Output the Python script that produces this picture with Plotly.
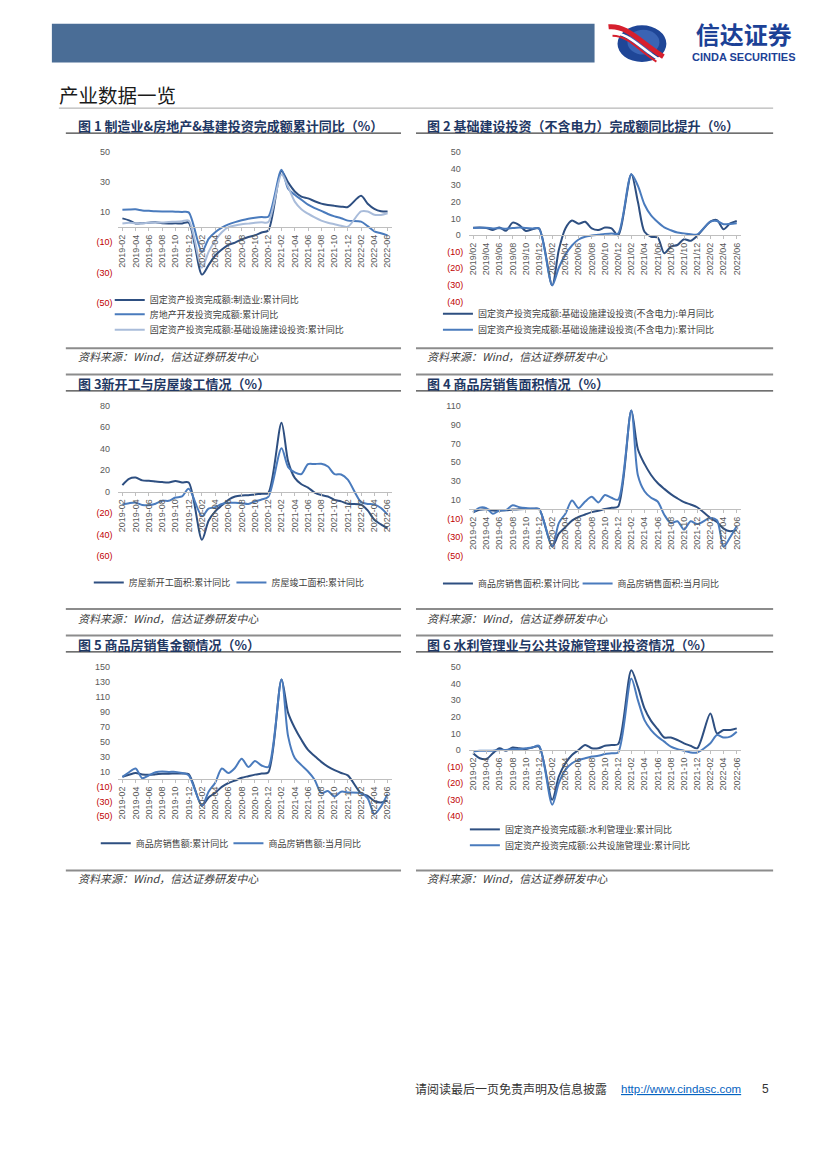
import plotly.graph_objects as go

W, H = 827, 1169

# ---------------- categories ----------------
months = ["2019-02", "2019-03", "2019-04", "2019-05", "2019-06", "2019-07", "2019-08", "2019-09",
          "2019-10", "2019-11", "2019-12",
          "2020-01", "2020-02", "2020-03", "2020-04", "2020-05", "2020-06", "2020-07", "2020-08",
          "2020-09", "2020-10", "2020-11", "2020-12",
          "2021-01", "2021-02", "2021-03", "2021-04", "2021-05", "2021-06", "2021-07", "2021-08",
          "2021-09", "2021-10", "2021-11", "2021-12",
          "2022-01", "2022-02", "2022-03", "2022-04", "2022-05", "2022-06"]
months_slash = [m.replace("-", "/") for m in months]

# ---------------- series (None = January, not published) ----------------
# 图1
mfg_cum = [5.9, 4.6, 2.5, 2.7, 3.0, 3.3, 2.6, 2.5, 2.6, 2.5, 3.1, None,
           -31.5, -25.2, -18.8, -14.8, -11.7, -10.2, -8.1, -6.5, -5.3, -3.5, -2.2, None,
           37.3, 29.8, 23.8, 20.4, 19.2, 17.3, 15.7, 14.8, 14.2, 13.7, 13.5, None,
           20.9, 15.6, 12.2, 10.6, 10.4]
re_cum = [11.6, 11.8, 11.9, 11.2, 10.9, 10.6, 10.5, 10.5, 10.3, 10.2, 9.9, None,
          -16.3, -7.7, -3.3, -0.3, 1.9, 3.4, 4.6, 5.6, 6.3, 6.8, 7.0, None,
          38.3, 25.6, 21.6, 18.3, 15.0, 12.7, 10.9, 8.8, 7.2, 6.0, 4.4, None,
          3.7, 0.7, -2.7, -4.0, -5.4]
infra_cum = [2.5, 3.0, 2.6, 2.6, 3.0, 3.2, 3.2, 3.5, 3.7, 4.0, 4.5, None,
             -26.9, -16.4, -8.8, -3.3, 0.1, 1.2, 2.0, 2.4, 3.0, 3.3, 3.4, None,
             35.0, 26.8, 17.0, 12.0, 9.0, 6.5, 4.4, 3.0, 2.0, 1.0, 0.3, None,
             10.5, 10.5, 8.3, 8.2, 9.3]
# 图2
infra_ex_month = [4.4, 4.6, 4.3, 3.0, 4.6, 2.6, 7.5, 6.0, 2.4, 3.5, 4.0, None,
                  -30.3, -9.0, 4.0, 8.8, 6.8, 8.0, 4.0, 3.0, 4.5, 4.0, -0.3, None,
                  36.6, 20.0, 2.0, -1.0, -1.5, -11.0, -7.0, -6.0, -2.5, -3.5, -0.5, None,
                  8.1, 9.0, 3.5, 7.0, 8.5]
infra_ex_cum = [4.3, 4.4, 4.4, 4.0, 4.1, 3.8, 4.2, 4.5, 4.2, 4.0, 3.8, None,
                -30.3, -19.7, -11.8, -6.3, -2.7, -1.0, -0.3, 0.2, 0.7, 1.0, 0.9, None,
                36.6, 29.7, 18.4, 11.8, 7.8, 4.6, 2.9, 1.5, 1.0, 0.5, 0.4, None,
                8.1, 8.5, 6.5, 6.7, 7.1]
# 图3
start_cum = [6.0, 11.9, 13.1, 10.5, 10.1, 9.5, 8.9, 8.6, 10.0, 8.6, 8.5, None,
             -44.9, -27.2, -18.4, -12.8, -7.6, -4.5, -3.6, -3.4, -2.6, -2.0, -1.2, None,
             64.3, 28.2, 12.8, 6.9, 3.8, -0.9, -3.2, -4.5, -7.7, -9.1, -11.4, None,
             -12.2, -17.5, -26.3, -30.6, -34.4]
compl_cum = [-11.9, -10.8, -10.3, -12.4, -12.7, -11.3, -8.6, -8.6, -5.5, -4.5, 2.6, None,
             -22.9, -15.8, -14.5, -11.5, -10.5, -10.5, -10.8, -11.6, -9.2, -7.3, -4.9, None,
             40.4, 22.9, 17.9, 16.4, 25.7, 25.7, 26.0, 23.4, 16.3, 16.0, 11.2, None,
             -9.8, -11.5, -11.9, -15.3, -21.5]
# 图4
area_cum = [-3.6, -0.9, -0.3, -1.6, -1.8, -1.3, -0.6, -0.1, 0.1, 0.2, -0.1, None,
            -39.9, -26.3, -19.3, -12.3, -8.4, -5.8, -3.3, -1.8, 0.0, 1.3, 2.6, None,
            104.9, 63.8, 48.1, 36.3, 27.7, 21.5, 15.9, 11.3, 7.3, 4.8, 1.9, None,
            -9.6, -13.8, -20.9, -23.6, -22.2]
area_month = [-3.6, 1.5, 1.0, -5.0, -1.5, -1.0, 4.0, 2.0, 1.0, 0.5, 0.0, None,
              -39.9, -15.0, -5.0, 9.0, 1.0, 8.0, 13.0, 7.0, 15.0, 12.0, 10.0, None,
              104.9, 36.0, 19.0, 12.0, 8.0, -6.0, -15.0, -13.0, -22.0, -13.0, -16.0, None,
              -9.6, -12.0, -40.0, -30.0, -18.0]
# 图5
amt_cum = [2.8, 5.6, 8.1, 6.1, 5.6, 6.2, 7.1, 7.1, 7.3, 7.3, 6.5, None,
           -35.9, -24.7, -18.6, -10.6, -5.4, -2.1, 1.6, 3.7, 5.8, 7.2, 8.7, None,
           133.4, 88.5, 68.2, 52.4, 38.9, 30.7, 22.9, 16.6, 11.8, 8.0, 4.8, None,
           -19.3, -22.7, -29.5, -31.5, -28.9]
amt_month = [2.8, 9.0, 14.0, 1.0, 5.0, 9.0, 10.0, 9.5, 9.5, 8.0, 5.0, None,
             -35.9, -17.0, -5.0, 14.0, 8.0, 15.0, 27.0, 16.0, 24.0, 18.0, 16.0, None,
             133.4, 57.0, 28.0, 18.5, 10.0, -1.0, -19.0, -16.0, -23.5, -17.0, -18.0, None,
             -19.3, -26.0, -47.0, -37.0, -20.0]
# 图6
water_cum = [-2.0, -5.0, -5.5, -2.0, 1.0, -0.5, 1.5, 1.0, 0.5, 1.5, 2.0, None,
             -30.0, -16.0, -8.0, -3.0, 0.0, 3.0, 1.0, 1.0, 2.5, 3.0, 3.5, None,
             48.0, 38.0, 25.0, 17.5, 12.5, 7.5, 7.5, 6.0, 4.0, 2.5, 1.0, None,
             22.0, 10.0, 12.0, 12.0, 13.0]
public_cum = [-1.0, -0.5, -0.5, -0.5, 0.0, 0.0, 0.5, 0.5, 1.0, 1.5, 2.5, None,
              -33.0, -20.0, -12.0, -8.0, -6.0, -5.0, -4.0, -3.5, -2.5, -2.0, -1.5, None,
              43.0, 30.0, 18.0, 12.0, 8.0, 5.0, 2.0, 0.5, -0.5, -1.5, -1.5, None,
              4.0, 9.0, 7.5, 8.0, 11.0]

# ---------------- style ----------------
C_DARK = "#2e4f81"
C_MID = "#4a7bbd"
C_LIGHT = "#a9bcda"
RED = "#c00000"
GRAY_TXT = "#595959"
AXIS_GRAY = "#bfbfbf"
TITLE_C = "#1f3864"
CJK = "Noto Sans CJK SC"
LAT = "Liberation Sans, Arial, sans-serif"


def fx(x):
    return x / W


def fy(y):
    return 1 - y / H


LX0, LX1 = 117.7, 391.5
RX0, RX1 = 469.3, 741.5

panels = [
    dict(cats=months, x0=LX0, x1=LX1, ytop=148.3, ybot=300.0, ymin=-50, ymax=50,
         ticks=[50, 30, 10, -10, -30, -50],
         series=[(mfg_cum, "固定资产投资完成额:制造业:累计同比", C_DARK, 149, 300),
                 (re_cum, "房地产开发投资完成额:累计同比", C_MID, 149, 314.5),
                 (infra_cum, "固定资产投资完成额:基础设施建设投资:累计同比", C_LIGHT, 149, 330)]),
    dict(cats=months_slash, x0=RX0, x1=RX1, ytop=148.3, ybot=299.0, ymin=-40, ymax=50,
         ticks=[50, 40, 30, 20, 10, 0, -10, -20, -30, -40],
         series=[(infra_ex_month, "固定资产投资完成额:基础设施建设投资(不含电力):单月同比", C_DARK, 478, 314),
                 (infra_ex_cum, "固定资产投资完成额:基础设施建设投资(不含电力):累计同比", C_MID, 478, 330)]),
    dict(cats=months, x0=LX0, x1=LX1, ytop=404.3, ybot=555.7, ymin=-60, ymax=80,
         ticks=[80, 60, 40, 20, 0, -20, -40, -60],
         series=[(start_cum, "房屋新开工面积:累计同比", C_DARK, 128, 585),
                 (compl_cum, "房屋竣工面积:累计同比", C_MID, 271, 585)]),
    dict(cats=months, x0=RX0, x1=RX1, ytop=404.3, ybot=555.7, ymin=-50, ymax=110,
         ticks=[110, 90, 70, 50, 30, 10, -10, -30, -50],
         series=[(area_cum, "商品房销售面积:累计同比", C_DARK, 478, 586),
                 (area_month, "商品房销售面积:当月同比", C_MID, 618, 586)]),
    dict(cats=months, x0=LX0, x1=LX1, ytop=667.7, ybot=818.3, ymin=-50, ymax=150,
         ticks=[150, 130, 110, 90, 70, 50, 30, 10, -10, -30, -50],
         series=[(amt_cum, "商品房销售额:累计同比", C_DARK, 135, 848),
                 (amt_month, "商品房销售额:当月同比", C_MID, 268, 848)]),
    dict(cats=months, x0=RX0, x1=RX1, ytop=667.7, ybot=818.3, ymin=-40, ymax=50,
         ticks=[50, 40, 30, 20, 10, 0, -10, -20, -30, -40],
         series=[(water_cum, "固定资产投资完成额:水利管理业:累计同比", C_DARK, 505, 834),
                 (public_cum, "固定资产投资完成额:公共设施管理业:累计同比", C_MID, 505, 850)]),
]


def tick_label(v):
    if v < 0:
        return '<span style="color:%s">(%d)</span>' % (RED, abs(v))
    return "%d\u00a0" % v


fig = go.Figure()
layout = dict(width=W, height=H, margin=dict(l=0, r=0, t=0, b=0),
              paper_bgcolor="white", plot_bgcolor="white", showlegend=True,
              hovermode=False)

leg_n = 0
for k, p in enumerate(panels, start=1):
    xa = "xaxis" if k == 1 else "xaxis%d" % k
    ya = "yaxis" if k == 1 else "yaxis%d" % k
    xr = "x" if k == 1 else "x%d" % k
    yr = "y" if k == 1 else "y%d" % k
    yzero = p["ytop"] + (p["ymax"] - 0) / (p["ymax"] - p["ymin"]) * (p["ybot"] - p["ytop"])
    cats = p["cats"]
    layout[xa] = dict(domain=[fx(p["x0"]), fx(p["x1"])], anchor="free", position=fy(yzero),
                      type="category", categoryorder="array", categoryarray=cats,
                      range=[-0.6, len(cats) - 0.4],
                      tickmode="array", tickvals=cats[::2], ticktext=cats[::2], tickangle=-90,
                      tickfont=dict(family=LAT, size=9, color=GRAY_TXT),
                      showline=True, linecolor=AXIS_GRAY, linewidth=1,
                      ticks="outside", ticklen=3, tickcolor=AXIS_GRAY, tickwidth=1,
                      showgrid=False, zeroline=False, fixedrange=True)
    layout[ya] = dict(domain=[fy(p["ybot"]), fy(p["ytop"])], anchor=xr,
                      range=[p["ymin"], p["ymax"]], tickmode="array",
                      tickvals=p["ticks"], ticktext=[tick_label(v) for v in p["ticks"]],
                      tickfont=dict(family=LAT, size=9, color=GRAY_TXT),
                      showline=False, showgrid=False, zeroline=False, ticks="",
                      ticklabelstandoff=5, fixedrange=True)
    for vals, name, color, tx, ty in p["series"]:
        leg_n += 1
        lk = "legend" if leg_n == 1 else "legend%d" % leg_n
        fig.add_trace(go.Scatter(x=cats, y=vals, mode="lines", name=name,
                                 line=dict(color=color, width=2, shape="spline", smoothing=0.8),
                                 connectgaps=True, xaxis=xr, yaxis=yr, legend=lk))
        layout[lk] = dict(x=fx(tx - 40), y=fy(ty - 2.5), xanchor="left", yanchor="middle",
                          orientation="v", bgcolor="rgba(0,0,0,0)", borderwidth=0,
                          font=dict(family=CJK, size=9, color="#404040"),
                          itemclick=False, itemdoubleclick=False)

# ---------------- page decoration ----------------
shapes = []
annos = []


def hline(x0, x1, y, color, w):
    shapes.append(dict(type="line", xref="paper", yref="paper", x0=fx(x0), x1=fx(x1),
                       y0=fy(y), y1=fy(y), line=dict(color=color, width=w)))


def text(x, y, s, size, color, anchor="left", family=CJK):
    annos.append(dict(xref="paper", yref="paper", x=fx(x), y=fy(y), text=s, showarrow=False,
                      xanchor=anchor, yanchor="middle", borderpad=0,
                      font=dict(family=family, size=size, color=color)))


def P(x, y):
    return "%.5f,%.5f" % (fx(x), fy(y))


# header bar
shapes.append(dict(type="rect", xref="paper", yref="paper", x0=fx(51), x1=fx(595),
                   y0=fy(58), y1=fy(19), fillcolor="#4a6d96", line=dict(width=0)))
# logo
shapes.append(dict(type="circle", xref="paper", yref="paper", x0=fx(618), x1=fx(667),
                   y0=fy(57.5), y1=fy(20.5), fillcolor="#1f4697", line=dict(width=0)))
shapes.append(dict(type="circle", xref="paper", yref="paper", x0=fx(628), x1=fx(660),
                   y0=fy(50), y1=fy(25), fillcolor="#3a64b4", line=dict(width=0)))
shapes.append(dict(type="path", xref="paper", yref="paper",
                   path="M %s C %s %s %s" % (P(609, 22), P(628, 20), P(641, 38), P(664, 52)),
                   line=dict(color="#d61f2d", width=5)))
shapes.append(dict(type="path", xref="paper", yref="paper",
                   path="M %s C %s %s %s" % (P(611, 28), P(629, 27), P(641, 44), P(661, 56)),
                   line=dict(color="white", width=2.5)))
shapes.append(dict(type="path", xref="paper", yref="paper",
                   path="M %s C %s %s %s" % (P(613, 31), P(630, 31), P(641, 48), P(657, 57)),
                   line=dict(color="#d61f2d", width=2)))
# logo wordmark: one two-line text block
text(744.5, 35,
     '<span style="font-size:24px"><b>信达证券</b></span><br>'
     '<span style="font-size:11px;font-family:Liberation Sans, Arial, sans-serif">'
     '<b>CINDA SECURITIES</b></span>',
     13, "#1c4196", anchor="center")

# page title
text(57, 90, "产业数据一览", 19.5, "#1a1a1a")
hline(58, 774, 104, "#a6a6a6", 1)

titles = ["图 1 制造业&房地产&基建投资完成额累计同比（%）",
          "图 2 基础建设投资（不含电力）完成额同比提升（%）",
          "图 3新开工与房屋竣工情况（%）",
          "图 4 商品房销售面积情况（%）",
          "图 5 商品房销售金额情况（%）",
          "图 6 水利管理业与公共设施管理业投资情况（%）"]
rows = [dict(top=None, title=121.5, under=129.2, src_line=346.3, src=354.5),
        dict(top=372.7, title=381.5, under=389.2, src_line=609.3, src=618.0),
        dict(top=636.0, title=645.0, under=652.5, src_line=873.0, src=881.0)]
cols = [dict(l0=65, l1=401, tx=76), dict(l0=416, l1=774, tx=426)]

for r, row in enumerate(rows):
    for c, col in enumerate(cols):
        if row["top"] is not None:
            hline(col["l0"], col["l1"], row["top"], "#8c8c8c", 2)
        hline(col["l0"], col["l1"], row["under"], "#404040", 1.3)
        hline(col["l0"], col["l1"], row["src_line"], "#8c8c8c", 2)
        text(col["tx"], row["title"], "<b>%s</b>" % titles[r * 2 + c], 13, TITLE_C)
        text(col["tx"], row["src"], "<i>资料来源：Wind，信达证券研发中心</i>", 11, "#404040")

# footer
text(414, 1093, "请阅读最后一页免责声明及信息披露", 12, "#333333")
text(620, 1093, "<u>http://www.cindasc.com</u>", 11.5, "#0563c1", family=LAT)
text(762, 1093, "5", 12, "#333333", family=LAT)

layout["shapes"] = shapes
layout["annotations"] = annos
fig.update_layout(**layout)
fig.write_html("out.html",
               config={"displayModeBar": False},
               post_script="document.body.style.margin='0px';"
                           "document.documentElement.style.margin='0px';")
